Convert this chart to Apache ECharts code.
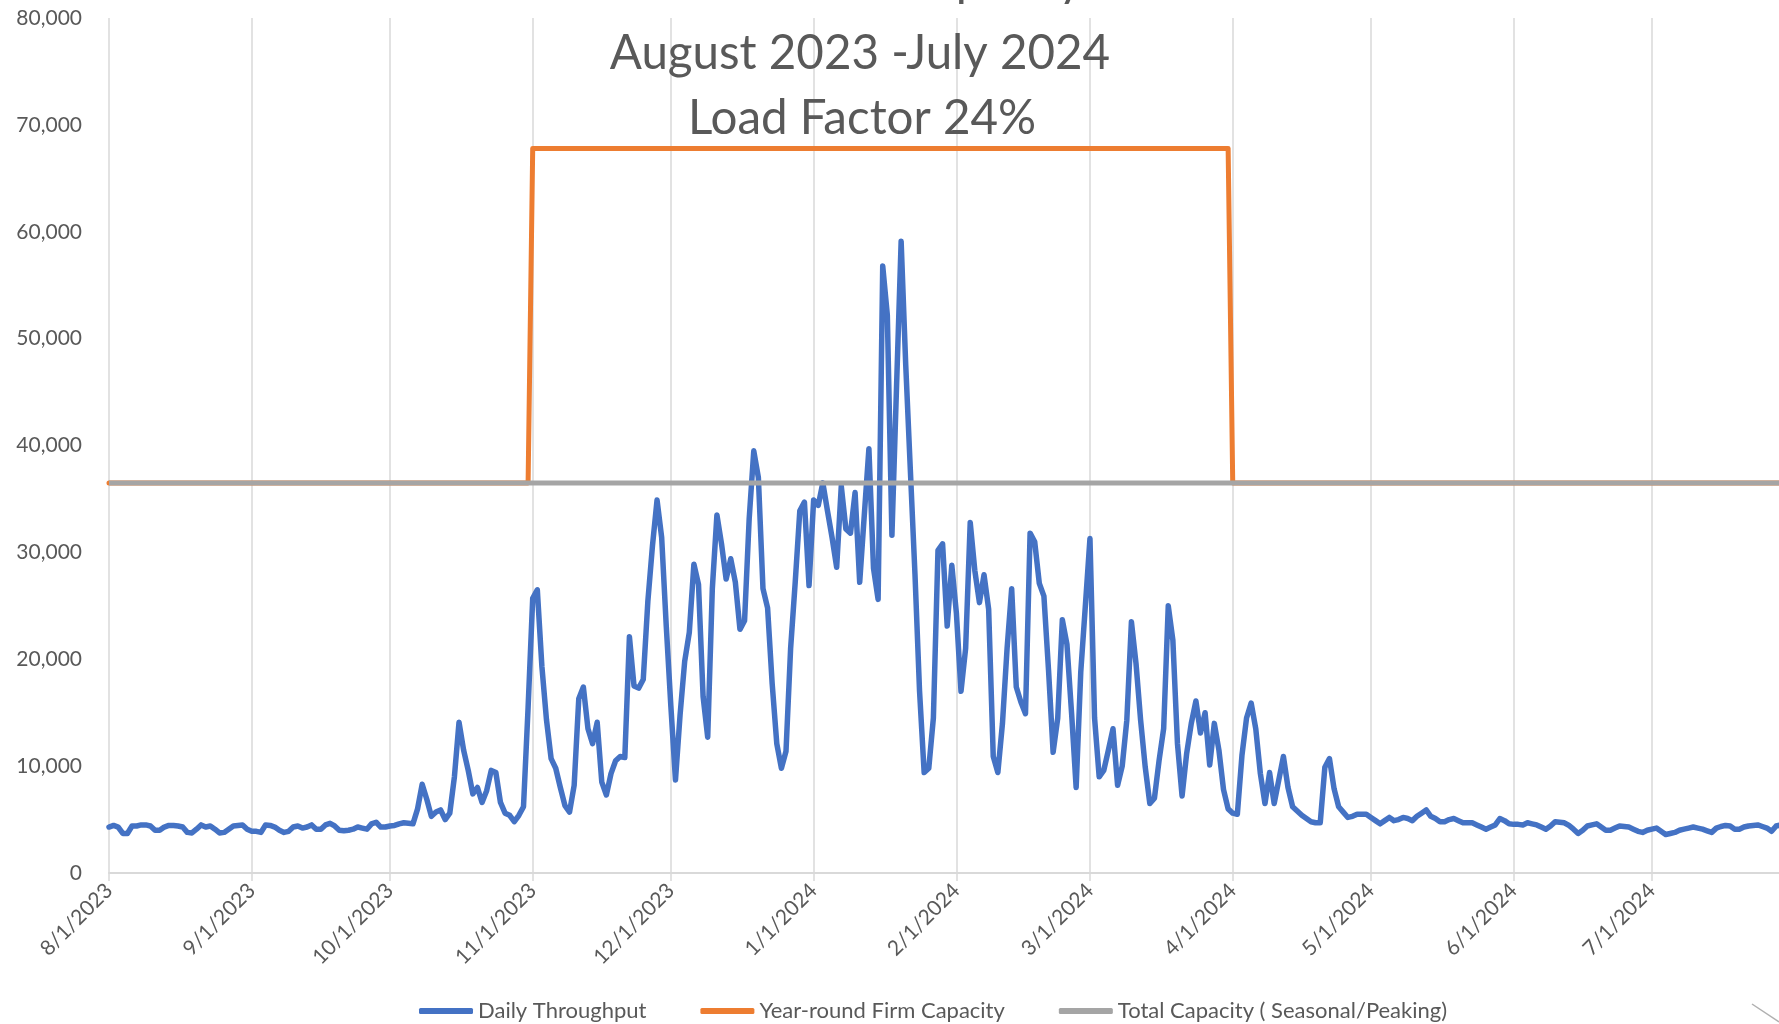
<!DOCTYPE html>
<html>
<head>
<meta charset="utf-8">
<title>Daily Throughput vs Capacity</title>
<script src="https://cdn.jsdelivr.net/npm/echarts@6/dist/echarts.min.js"></script>
<style>
    html, body { margin: 0; padding: 0; background: #fff; overflow: hidden; }
    #chart { width: 1779px; height: 1024px; }
</style>
</head>
<body>
<div id="chart"></div>
<script>
// one category per day, 8/1/2023 .. 7/31/2024
const dayCount = 366;
const dates = [];
for (let i = 0; i < dayCount; i++) {
    const d = new Date(2023, 7, 1 + i);
    dates.push((d.getMonth() + 1) + '/' + d.getDate() + '/' + d.getFullYear());
}

const titleLines = ['Demand vs. Capacity', 'August 2023 -July 2024', 'Load Factor 24%'];
const seriesNames = ['Daily Throughput', 'Year-round Firm Capacity', 'Total Capacity ( Seasonal/Peaking)'];

const yMin = 0;
const yMax = 80000;
const yStep = 10000;

// daily throughput (starts 8/1/2023)
const dailyThroughput = [
    4300, 4450, 4300, 3700, 3700, 4400, 4400, 4500, 4500, 4400,
    4000, 4000, 4300, 4450, 4450, 4400, 4300, 3800, 3750, 4100,
    4500, 4300, 4400, 4100, 3750, 3800, 4100, 4400, 4450, 4500,
    4100, 3900, 3900, 3800, 4500, 4450, 4300, 4000, 3800, 3900,
    4300, 4400, 4200, 4300, 4500, 4100, 4100, 4500, 4650, 4400,
    4000, 3950, 4000, 4100, 4300, 4200, 4100, 4600, 4750, 4300,
    4300, 4400, 4450, 4600, 4700, 4650, 4600, 6000, 8300, 6900,
    5300, 5700, 5900, 5000, 5600, 9000, 14100, 11500, 9600, 7400,
    8000, 6600, 7700, 9600, 9400, 6600, 5600, 5400, 4800, 5400,
    6200, 15500, 25700, 26500, 19300, 14300, 10700, 9800, 8000, 6300,
    5700, 8200, 16300, 17400, 13500, 12100, 14100, 8500, 7300, 9300,
    10500, 10900, 10800, 22100, 17500, 17300, 18100, 25400, 30600, 34900,
    31400, 23100, 15600, 8700, 14800, 19800, 22500, 28900, 27000, 16500,
    12700, 26600, 33500, 30800, 27500, 29400, 27200, 22800, 23600, 33100,
    39500, 37000, 26600, 24800, 17700, 12100, 9800, 11400, 21000, 27200,
    33900, 34700, 26900, 34900, 34400, 36500, 33900, 31400, 28600, 36200,
    32200, 31800, 35600, 27200, 33500, 39700, 28500, 25600, 56800, 52200,
    31600, 45500, 59100, 47500, 37700, 28000, 17000, 9400, 9800, 14500,
    30200, 30800, 23100, 28800, 24300, 17000, 21000, 32800, 28300, 25300,
    27900, 24700, 10900, 9400, 14000, 21000, 26600, 17400, 16000, 14900,
    31800, 31000, 27100, 25900, 19000, 11300, 14500, 23700, 21400, 15000,
    8000, 18800, 25000, 31300, 14500, 9000, 9600, 11500, 13500, 8200,
    10000, 14300, 23500, 19600, 14300, 9900, 6500, 7000, 10500, 13500,
    25000, 21800, 12100, 7200, 11200, 14000, 16100, 13100, 15000, 10100,
    14000, 11500, 7800, 6000, 5600, 5500, 11000, 14500, 15900, 13500,
    9300, 6500, 9400, 6500, 8700, 10900, 8000, 6200, 5800, 5400,
    5100, 4800, 4700, 4700, 9900, 10700, 7900, 6200, 5700, 5200,
    5300, 5500, 5500, 5500, 5200, 4900, 4600, 4900, 5200, 4900,
    5000, 5200, 5100, 4900, 5300, 5600, 5900, 5300, 5100, 4800,
    4800, 5000, 5100, 4900, 4700, 4700, 4700, 4500, 4300, 4100,
    4300, 4500, 5100, 4900, 4600, 4550, 4550, 4500, 4700, 4600,
    4500, 4300, 4100, 4400, 4800, 4750, 4700, 4450, 4100, 3700,
    4000, 4400, 4500, 4600, 4300, 4000, 4000, 4200, 4400, 4350,
    4300, 4100, 3900, 3800, 4000, 4100, 4200, 3900, 3600, 3700,
    3800, 4000, 4100, 4200, 4300, 4200, 4100, 3950, 3800, 4200,
    4350, 4450, 4400, 4100, 4100, 4300, 4400, 4450, 4500, 4350,
    4200, 3900, 4400, 4500
];

// firm capacity steps up for the winter season
const firmDates = ['8/1/2023', '10/31/2023', '11/1/2023', '3/31/2024', '4/1/2024', '7/31/2024'];
const firmValues = [36500, 36500, 67800, 67800, 36500, 36500];

const totalDates = ['8/1/2023', '7/31/2024'];
const totalValues = [36500, 36500];

const fontName = 'Lato, "Liberation Sans", sans-serif';
const textColor = '#595959';
const gridColor = '#d9d9d9';

function isMonthStart(index, value) {
    return String(value).split('/')[1] === '1';
}

const chart = echarts.init(document.getElementById('chart'));

const option = {
    backgroundColor: '#ffffff',
    animation: false,
    title: [
        {
            text: titleLines[0], left: 1078, top: -48, textAlign: 'right',
            textStyle: { fontFamily: fontName, fontSize: 48, fontWeight: 'normal', color: textColor }
        },
        {
            text: titleLines[1], left: 855, top: 25, textAlign: 'center',
            textStyle: { fontFamily: fontName, fontSize: 47.5, fontWeight: 'normal', color: textColor }
        },
        {
            text: titleLines[2], left: 857, top: 90, textAlign: 'center',
            textStyle: { fontFamily: fontName, fontSize: 47.5, fontWeight: 'normal', color: textColor }
        }
    ],
    legend: {
        data: seriesNames,
        left: 414,
        top: 995,
        icon: 'roundRect',
        itemWidth: 54,
        itemHeight: 6,
        itemGap: 54,
        textStyle: { fontFamily: fontName, fontSize: 22, color: textColor }
    },
    grid: {
        left: 109,
        top: 18,
        width: 1681,
        height: 855,
        containLabel: false,
        outerBoundsMode: 'none'
    },
    xAxis: {
        type: 'category',
        data: dates,
        boundaryGap: false,
        axisLine: { show: true, lineStyle: { color: gridColor, width: 2 } },
        axisTick: { show: true, interval: isMonthStart, length: 8, lineStyle: { color: gridColor, width: 1.5 } },
        axisLabel: {
            interval: isMonthStart,
            rotate: 45,
            margin: 14,
            color: textColor,
            fontFamily: fontName,
            fontSize: 21
        },
        splitLine: { show: true, interval: isMonthStart, lineStyle: { color: gridColor, width: 1.5 } }
    },
    yAxis: {
        type: 'value',
        min: yMin,
        max: yMax,
        interval: yStep,
        axisLine: { show: false },
        axisTick: { show: false },
        splitLine: { show: false },
        axisLabel: {
            margin: 27,
            color: textColor,
            fontFamily: fontName,
            fontSize: 21,
            formatter: v => v.toLocaleString('en-US')
        }
    },
    series: [
        {
            name: seriesNames[0],
            type: 'line',
            data: dailyThroughput,
            symbol: 'none',
            color: '#4472C4',
            lineStyle: { width: 5.5, cap: 'round', join: 'round' }
        },
        {
            name: seriesNames[1],
            type: 'line',
            data: firmDates.map((d, i) => [d, firmValues[i]]),
            symbol: 'none',
            color: '#ED7D31',
            lineStyle: { width: 5, cap: 'round', join: 'round' }
        },
        {
            name: seriesNames[2],
            type: 'line',
            data: totalDates.map((d, i) => [d, totalValues[i]]),
            symbol: 'none',
            color: '#A5A5A5',
            lineStyle: { width: 5 }
        }
    ],
    graphic: [
        {
            type: 'line',
            shape: { x1: 1752, y1: 1004, x2: 1779, y2: 1022 },
            style: { stroke: '#b0b0b0', lineWidth: 1.5 }
        }
    ]
};

chart.setOption(option);
</script>
</body>
</html>
